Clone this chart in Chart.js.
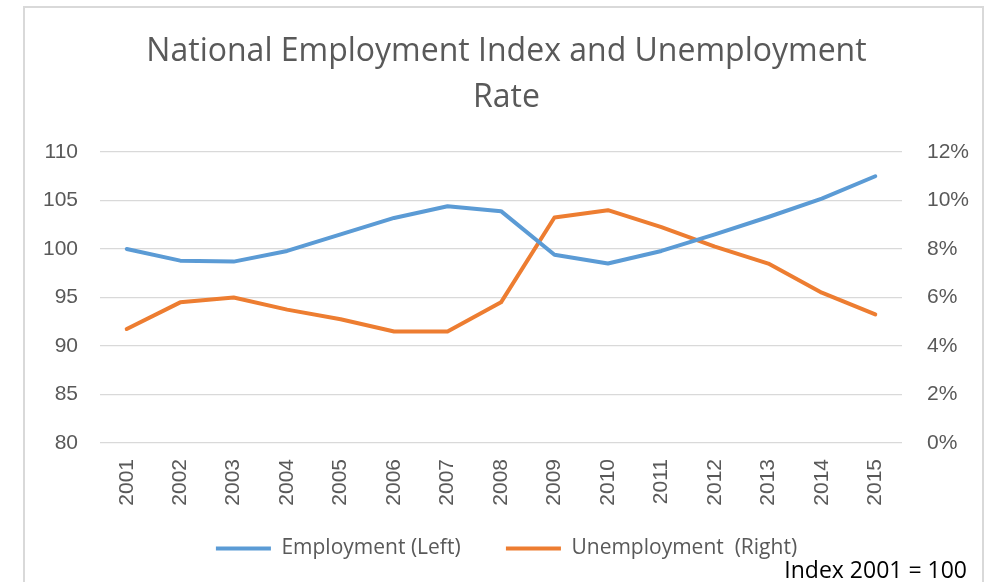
<!DOCTYPE html>
<html>
<head>
<meta charset="utf-8">
<script src="https://cdn.jsdelivr.net/npm/chart.js@4.4.1/dist/chart.umd.min.js"></script>
<style>
  html, body { margin: 0; padding: 0; background: #fff; overflow: hidden; }
  #wrap { position: relative; width: 995px; height: 582px; }
  #frame { position: absolute; left: 23px; top: 6px; width: 961px; height: 620px;
           border: 2px solid #d9d9d9; box-sizing: border-box; }
  #view-chart { position: absolute; left: 0; top: 0; }
  #note { position: absolute; right: 28px; top: 556px; font: 23px "Open Sans", sans-serif;
          color: #000; line-height: 26px; white-space: nowrap; }
</style>
</head>
<body>
<div id="wrap">
  <div id="frame"></div>
  <canvas id="view-chart" width="995" height="582"></canvas>
  <div id="note">Index 2001 = 100</div>
</div>
<script>
const years = ["2001", "2002", "2003", "2004", "2005", "2006", "2007", "2008",
               "2009", "2010", "2011", "2012", "2013", "2014", "2015"];
const employment = [100.0, 98.8, 98.7, 99.8, 101.5, 103.2, 104.4, 103.9,
                    99.4, 98.5, 99.8, 101.5, 103.3, 105.2, 107.5];
const unemployment = [4.7, 5.8, 6.0, 5.5, 5.1, 4.6, 4.6, 5.8,
                      9.3, 9.6, 8.9, 8.1, 7.4, 6.2, 5.3];
const leftTicks = [80, 110, 5];   // min, max, step
const rightTicks = [0, 12, 2];

const grey = "#595959";
const cnv = document.getElementById("view-chart");
const ctx = cnv.getContext("2d");

const viewChart = new Chart(ctx, {
    type: "line",
    data: {
        labels: years,
        datasets: [{
            label: "Employment (Left)",
            data: employment,
            borderColor: "#5b9bd5",
            backgroundColor: "#5b9bd5",
            borderWidth: 4,
            borderCapStyle: "round",
            borderJoinStyle: "round",
            pointRadius: 0,
            tension: 0,
            yAxisID: "y"
        },
        {
            label: "Unemployment  (Right)",
            data: unemployment,
            borderColor: "#ed7d31",
            backgroundColor: "#ed7d31",
            borderWidth: 4,
            borderCapStyle: "round",
            borderJoinStyle: "round",
            pointRadius: 0,
            tension: 0,
            yAxisID: "y1"
        }]
    },
    options: {
        responsive: false,
        animation: false,
        layout: { padding: { top: 19, left: 18, right: 0, bottom: 13 } },
        plugins: {
            title: {
                display: true,
                text: ["National Employment Index and Unemployment", "Rate"],
                color: grey,
                font: { family: "'Open Sans'", size: 32, weight: "normal", lineHeight: 46 / 32 },
                padding: { top: 10, bottom: 31 }
            },
            legend: {
                position: "bottom",
                labels: {
                    usePointStyle: true,
                    pointStyle: "line",
                    pointStyleWidth: 55,
                    padding: 29,
                    color: grey,
                    font: { family: "'Open Sans'", size: 21 },
                    // extra room after the first entry, like the original
                    generateLabels: (chart) => {
                        const items = Chart.defaults.plugins.legend.labels.generateLabels(chart);
                        items[0].text += "   ";
                        return items;
                    }
                }
            },
            tooltip: { enabled: false }
        },
        scales: {
            x: {
                offset: true,
                grid: { display: false },
                border: { display: false },
                ticks: {
                    color: grey,
                    font: { family: "'Liberation Sans'", size: 21 },
                    minRotation: 90,
                    maxRotation: 90,
                    autoSkip: false,
                    padding: 8
                },
                afterFit: (s) => { s.height = 66; }
            },
            y: {
                position: "left",
                min: leftTicks[0],
                max: leftTicks[1],
                grid: { color: "#d9d9d9", lineWidth: 1.3, drawTicks: false },
                border: { display: false },
                ticks: {
                    stepSize: leftTicks[2],
                    color: grey,
                    font: { family: "'Liberation Sans'", size: 21 },
                    padding: 22
                },
                afterFit: (s) => { s.width = 82; }
            },
            y1: {
                position: "right",
                min: rightTicks[0],
                max: rightTicks[1],
                grid: { display: false, drawTicks: false },
                border: { display: false },
                ticks: {
                    stepSize: rightTicks[2],
                    color: grey,
                    font: { family: "'Liberation Sans'", size: 21 },
                    padding: 25,
                    callback: (v) => v + "%"
                },
                afterFit: (s) => { s.width = 93; }
            }
        }
    }
});
</script>
</body>
</html>
